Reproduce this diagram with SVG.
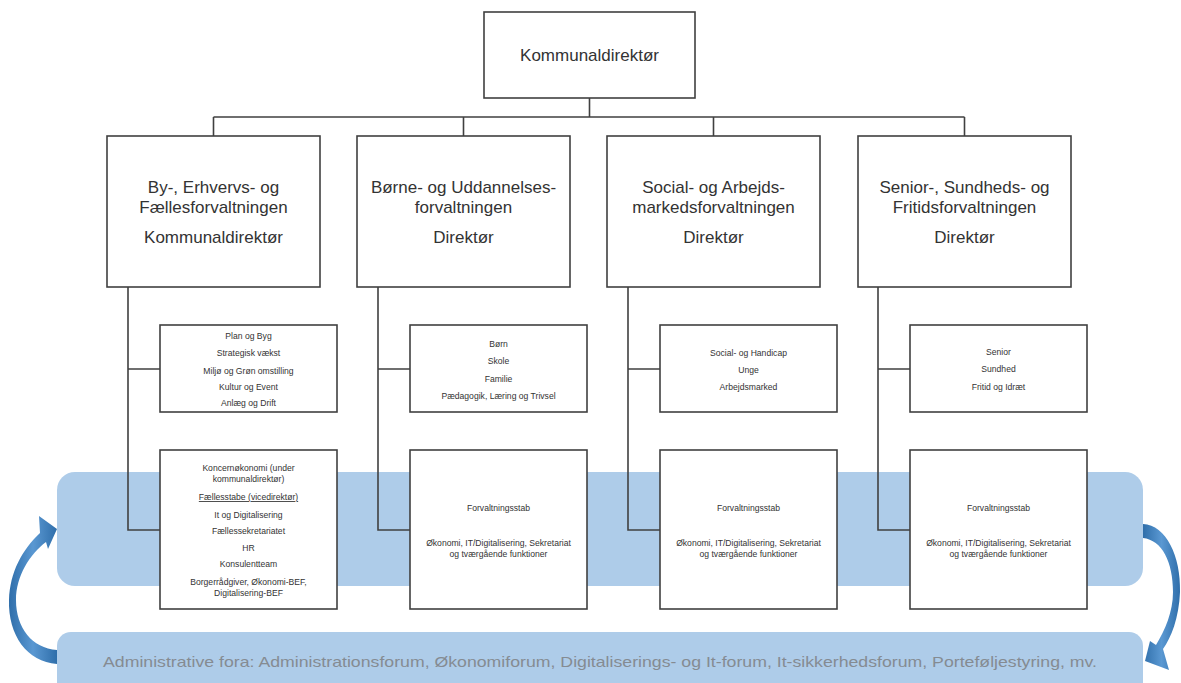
<svg xmlns="http://www.w3.org/2000/svg" width="1181" height="683" viewBox="0 0 1181 683">
<style>
.box{fill:#ffffff;stroke:#404040;stroke-width:1.6}
.ln{fill:none;stroke:#404040;stroke-width:1.6}
.t1{font-family:"Liberation Sans",Arial,sans-serif;font-size:17px;fill:#333333;text-anchor:middle}
.t2{font-family:"Liberation Sans",Arial,sans-serif;font-size:8.6px;fill:#333333;text-anchor:middle}
.band{fill:#aecce9}
.bt{font-family:"Liberation Sans",Arial,sans-serif;font-size:15px;fill:#858b92;text-anchor:middle}
.arr{fill:url(#ag)}
</style>
<defs>
<linearGradient id="ag" x1="0" y1="0" x2="1" y2="0">
<stop offset="0" stop-color="#2f6eaa"/>
<stop offset="0.5" stop-color="#5a98d2"/>
<stop offset="1" stop-color="#2f6eaa"/>
</linearGradient>
</defs>
<g id="bands">
<rect class="band" x="57" y="472" width="1086" height="114" rx="18"/>
<rect class="band" x="57" y="632" width="1086" height="70" rx="14"/>
<text class="bt" x="600" y="667" textLength="994" lengthAdjust="spacingAndGlyphs">Administrative fora: Administrationsforum, Økonomiforum, Digitaliserings- og It-forum, It-sikkerhedsforum, Porteføljestyring, mv.</text>
</g>
<g id="cycle-arrows">
<path class="arr" d="M57,664 C27,662 8,635 9,600 C10,572 22,550 40,533 L39,516 L57,529 L48,549 L46,542 C30,554 16,576 16,600 C16,628 32,648 57,650 Z"/>
<path class="arr" d="M1143,524 C1166,525 1181,556 1180,592 C1179,618 1171,638 1163,649 L1169,670 L1145,661 L1150,641 L1156,645 C1165,630 1173,612 1173,592 C1173,562 1162,540 1143,538 Z"/>
</g>
<g id="connectors">
<path class="ln" d="M589.5,98 V117 M213.5,117 H964.5 M213.5,117 V136 M463.5,117 V136 M713.5,117 V136 M964.5,117 V136"/>
<path class="ln" d="M128,287 V530 H160 M128,369 H160"/>
<path class="ln" d="M378,287 V530 H410 M378,369 H410"/>
<path class="ln" d="M628,287 V530 H660 M628,369 H660"/>
<path class="ln" d="M878,287 V530 H910 M878,369 H910"/>
</g>
<g id="top">
<rect class="box" x="484" y="12" width="211" height="86"/>
<text class="t1" x="589.5" y="61">Kommunaldirektør</text>
</g>
<g id="bef">
<rect class="box" x="107" y="136" width="213" height="151"/>
<text class="t1" x="213.5" y="193">By-, Erhvervs- og</text>
<text class="t1" x="213.5" y="213">Fællesforvaltningen</text>
<text class="t1" x="213.5" y="243">Kommunaldirektør</text>
</g>
<g id="buf">
<rect class="box" x="357" y="136" width="213" height="151"/>
<text class="t1" x="463.5" y="193">Børne- og Uddannelses-</text>
<text class="t1" x="463.5" y="213">forvaltningen</text>
<text class="t1" x="463.5" y="243">Direktør</text>
</g>
<g id="saf">
<rect class="box" x="607" y="136" width="213" height="151"/>
<text class="t1" x="713.5" y="193">Social- og Arbejds-</text>
<text class="t1" x="713.5" y="213">markedsforvaltningen</text>
<text class="t1" x="713.5" y="243">Direktør</text>
</g>
<g id="ssf">
<rect class="box" x="858" y="136" width="213" height="151"/>
<text class="t1" x="964.5" y="193">Senior-, Sundheds- og</text>
<text class="t1" x="964.5" y="213">Fritidsforvaltningen</text>
<text class="t1" x="964.5" y="243">Direktør</text>
</g>
<g id="bef-areas">
<rect class="box" x="160" y="325" width="177" height="87"/>
<text class="t2" x="248.5" y="339">Plan og Byg</text>
<text class="t2" x="248.5" y="356">Strategisk vækst</text>
<text class="t2" x="248.5" y="374">Miljø og Grøn omstilling</text>
<text class="t2" x="248.5" y="390">Kultur og Event</text>
<text class="t2" x="248.5" y="406">Anlæg og Drift</text>
</g>
<g id="buf-areas">
<rect class="box" x="410" y="325" width="177" height="87"/>
<text class="t2" x="498.5" y="347">Børn</text>
<text class="t2" x="498.5" y="364">Skole</text>
<text class="t2" x="498.5" y="382">Familie</text>
<text class="t2" x="498.5" y="399">Pædagogik, Læring og Trivsel</text>
</g>
<g id="saf-areas">
<rect class="box" x="660" y="325" width="177" height="87"/>
<text class="t2" x="748.5" y="356">Social- og Handicap</text>
<text class="t2" x="748.5" y="373">Unge</text>
<text class="t2" x="748.5" y="390">Arbejdsmarked</text>
</g>
<g id="ssf-areas">
<rect class="box" x="910" y="325" width="177" height="87"/>
<text class="t2" x="998.5" y="355">Senior</text>
<text class="t2" x="998.5" y="372">Sundhed</text>
<text class="t2" x="998.5" y="390">Fritid og Idræt</text>
</g>
<g id="bef-staff">
<rect class="box" x="160" y="450" width="177" height="159"/>
<text class="t2" x="248.5" y="471">Koncernøkonomi (under</text>
<text class="t2" x="248.5" y="482">kommunaldirektør)</text>
<text class="t2" x="248.5" y="500" text-decoration="underline">Fællesstabe (vicedirektør)</text>
<text class="t2" x="248.5" y="518">It og Digitalisering</text>
<text class="t2" x="248.5" y="534">Fællessekretariatet</text>
<text class="t2" x="248.5" y="551">HR</text>
<text class="t2" x="248.5" y="567">Konsulentteam</text>
<text class="t2" x="248.5" y="585">Borgerrådgiver, Økonomi-BEF,</text>
<text class="t2" x="248.5" y="596">Digitalisering-BEF</text>
</g>
<g id="buf-staff">
<rect class="box" x="410" y="450" width="177" height="159"/>
<text class="t2" x="498.5" y="511">Forvaltningsstab</text>
<text class="t2" x="498.5" y="546">Økonomi, IT/Digitalisering, Sekretariat</text>
<text class="t2" x="498.5" y="557">og tværgående funktioner</text>
</g>
<g id="saf-staff">
<rect class="box" x="660" y="450" width="177" height="159"/>
<text class="t2" x="748.5" y="511">Forvaltningsstab</text>
<text class="t2" x="748.5" y="546">Økonomi, IT/Digitalisering, Sekretariat</text>
<text class="t2" x="748.5" y="557">og tværgående funktioner</text>
</g>
<g id="ssf-staff">
<rect class="box" x="910" y="450" width="177" height="159"/>
<text class="t2" x="998.5" y="511">Forvaltningsstab</text>
<text class="t2" x="998.5" y="546">Økonomi, IT/Digitalisering, Sekretariat</text>
<text class="t2" x="998.5" y="557">og tværgående funktioner</text>
</g>
</svg>
